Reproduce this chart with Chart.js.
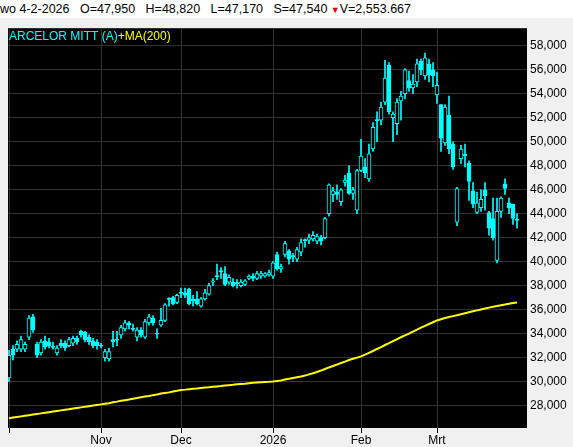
<!DOCTYPE html>
<html><head><meta charset="utf-8">
<script src="https://cdn.jsdelivr.net/npm/chart.js@4/dist/chart.umd.min.js"></script>
<style>
html,body{margin:0;padding:0;background:#f0f0f0;width:573px;height:447px;overflow:hidden;font-family:"Liberation Sans",Arial,sans-serif}
#hdr{position:absolute;left:0;top:0;width:573px;height:18px;background:#fff;font-size:12.5px;line-height:18px;white-space:pre;color:#000}
#hdr .tri{color:#e00000;font-size:9px}
#wrap{position:absolute;left:0;top:18px;width:573px;height:429px}
</style></head><body>
<div id="hdr">wo 4-2-2026   O=47,950   H=48,820   L=47,170   S=47,540 <span class="tri">▼</span>V=2,553.667</div>
<div id="wrap"><canvas id="c" width="573" height="429"></canvas></div>
<script>
const opens  = [30.3,32.7,32.7,32.7,32.7,33.7,35.4,33.1,32.4,33.4,33.3,32.9,32.4,33.2,33.2,33.0,33.2,33.6,34.2,34.1,33.7,33.4,33.3,33.0,32.0,31.9,33.5,33.5,33.9,34.4,34.9,34.4,33.7,34.3,33.7,34.9,35.3,34.0,34.7,35.1,36.9,37.0,36.6,37.4,37.4,37.7,36.8,36.9,36.3,36.9,37.3,38.3,38.8,39.2,39.0,38.3,38.3,38.2,38.0,38.1,38.6,38.8,38.6,38.8,38.8,38.9,38.8,40.6,39.4,40.6,40.9,40.5,40.2,40.8,41.8,41.8,41.9,41.7,42.0,42.0,44.0,45.6,45.8,45.0,46.6,47.4,45.7,44.3,47.6,47.9,46.9,49.4,51.8,51.8,53.3,56.4,52.0,51.5,53.4,54.0,55.1,54.5,55.0,56.7,55.5,56.5,56.0,53.9,53.1,49.9,52.2,49.8,43.3,48.6,48.9,48.2,45.9,44.1,44.5,46.0,44.1,43.6,40.1,44.2,46.5,44.9,44.8,43.5];
const closes = [32.2,32.2,33.1,33.5,33.1,35.3,34.3,32.2,33.3,32.9,33.0,32.9,32.8,33.0,32.8,33.5,33.6,33.3,33.9,33.5,33.3,33.0,33.0,33.0,32.5,32.5,33.3,33.5,34.5,34.9,34.7,34.4,34.3,33.9,35.0,35.4,34.9,34.0,35.1,36.4,36.9,36.5,37.2,37.4,37.2,36.5,36.8,36.5,36.9,37.4,38.0,38.4,38.8,39.2,38.1,38.7,38.0,38.2,38.3,38.4,38.8,38.6,39.0,39.0,39.0,39.1,39.9,39.4,39.6,41.5,40.2,40.4,41.0,41.6,41.8,42.0,42.2,42.1,41.7,43.6,46.4,45.9,45.6,46.0,46.8,45.7,46.0,47.6,48.8,47.4,49.0,51.2,51.8,52.9,55.3,52.5,52.3,53.3,53.8,56.0,54.5,54.8,56.5,56.0,57.0,55.6,55.5,54.7,50.3,52.9,49.4,47.9,46.1,49.4,48.9,46.7,44.8,44.9,45.2,45.5,42.8,42.0,44.2,45.3,46.1,44.5,43.6,43.5];
const highs  = [32.6,33.0,33.4,33.8,33.3,35.5,35.6,33.3,33.5,33.8,33.6,33.3,33.0,33.5,33.4,33.7,33.8,33.8,34.3,34.2,33.9,33.6,33.5,33.2,32.7,32.8,34.2,34.2,34.7,35.1,35.0,34.8,34.5,34.5,35.2,35.6,35.5,34.4,36.1,36.5,37.0,37.1,37.3,37.8,37.8,37.8,37.2,37.5,37.0,37.7,38.2,38.6,39.8,39.5,39.6,38.9,38.6,38.5,38.5,38.5,38.9,39.0,39.2,39.2,39.1,39.3,40.0,40.8,39.8,41.7,41.0,40.7,41.2,41.9,41.9,42.3,42.5,42.3,42.2,43.7,46.5,46.2,46.4,46.1,47.2,48.0,46.2,47.7,50.2,48.6,49.8,51.6,52.5,53.3,56.8,56.6,52.5,53.6,54.2,56.1,55.9,55.6,56.9,56.9,57.4,56.9,56.6,55.8,53.1,53.1,53.8,50.0,46.2,49.7,49.8,48.4,46.6,45.8,46.0,46.6,44.2,45.3,45.3,45.4,46.9,45.3,44.8,44.0];
const lows   = [30.0,31.8,32.5,32.5,32.5,33.5,34.1,32.0,32.2,32.7,32.8,32.7,32.2,32.8,32.6,32.9,33.0,33.1,33.7,33.3,33.1,32.8,32.7,32.8,31.7,31.7,32.9,33.0,33.6,34.2,34.4,34.2,33.4,33.7,33.6,34.7,34.7,33.6,34.6,35.0,36.3,36.4,36.5,37.0,37.0,36.4,36.3,36.4,36.2,36.8,37.2,38.0,38.5,38.6,38.0,38.1,37.9,37.8,37.9,38.0,38.5,38.4,38.5,38.6,38.7,38.8,38.6,39.3,39.1,40.4,39.8,40.0,40.0,40.5,41.2,41.5,41.7,41.5,41.4,41.9,43.8,45.0,45.2,44.7,46.3,45.6,45.2,44.0,47.5,47.0,46.7,49.2,50.0,51.4,53.1,52.3,50.0,50.6,51.8,53.6,54.2,54.0,54.6,55.6,55.2,55.0,54.6,53.2,49.2,49.7,49.0,47.7,43.0,48.2,47.9,45.1,44.5,44.0,44.2,44.3,42.2,41.8,39.9,43.7,45.6,44.0,43.1,42.8];
const ma200  = [26.95,27.0,27.05,27.1,27.15,27.2,27.25,27.3,27.35,27.4,27.45,27.5,27.55,27.6,27.65,27.7,27.75,27.8,27.85,27.9,27.95,28.0,28.05,28.1,
28.15,28.2,28.27,28.33,28.4,28.45,28.5,28.57,28.63,28.7,28.75,28.8,28.87,28.93,29.0,29.05,29.1,29.17,29.23,29.3,
29.33,29.37,29.4,29.43,29.47,29.5,29.53,29.57,29.6,29.63,29.67,29.7,29.73,29.77,29.8,29.83,29.87,29.9,29.93,29.95,29.97,29.98,30.0,
30.05,30.1,30.17,30.23,30.3,30.37,30.43,30.5,30.6,30.7,30.8,30.92,31.05,31.18,31.3,31.42,31.55,31.67,31.8,31.9,32.0,32.1,
32.25,32.4,32.55,32.72,32.88,33.05,33.2,33.37,33.53,33.7,33.85,34.0,34.17,34.33,34.5,34.65,34.8,34.95,35.1,
35.2,35.3,35.38,35.46,35.54,35.62,35.7,35.78,35.86,35.94,36.02,36.1,36.17,36.24,36.3,36.37,36.43,36.5,36.55,36.6];
const monthTickIdx = [1,24,44,67,89,108];
const monthTickLbl = ['','Nov','Dec','2026','Feb','Mrt'];
const yTicks = [28,30,32,34,36,38,40,42,44,46,48,50,52,54,56,58];

const CY='#00ffff';
const wicks = opens.map((o,i)=>({x:i+1,y:[lows[i],highs[i]]}));
const bodies = opens.map((o,i)=>{const c=closes[i];return {x:i+1,y:(o===c)?[o-0.05,o+0.05]:[Math.min(o,c),Math.max(o,c)]};});
const bodyFill = opens.map((o,i)=> closes[i]>o ? '#000000' : CY);
const maPts = ma200.map((v,i)=>({x:i+1,y:v}));

const bg={id:'bg',
 beforeDraw(ch){const a=ch.chartArea,x=ch.ctx;x.save();x.fillStyle='#000';x.fillRect(a.left,a.top,a.right-a.left,a.bottom-a.top);x.restore();},
 afterDraw(ch){const x=ch.ctx,a=ch.chartArea;x.save();x.font='12px "Liberation Sans"';x.textBaseline='top';
  const t1='ARCELOR MITT (A)';x.fillStyle=CY;x.fillText(t1,a.left+1,a.top+2);
  x.fillStyle='#ffff00';x.fillText('+MA(200)',a.left+1+x.measureText(t1).width,a.top+2);x.restore();}};

new Chart(document.getElementById('c'),{
 data:{datasets:[
  {type:'line',data:maPts,borderColor:'#ffff00',borderWidth:2,pointRadius:0,tension:0,order:0},
  {type:'bar',data:bodies,backgroundColor:bodyFill,borderColor:CY,borderWidth:1,borderSkipped:false,barThickness:4,grouped:false,order:1},
  {type:'bar',data:wicks,backgroundColor:CY,borderWidth:0,barThickness:1,grouped:false,order:2}
 ]},
 options:{responsive:false,animation:false,devicePixelRatio:1,
  layout:{padding:{left:8,top:1,right:0,bottom:0}},
  plugins:{legend:{display:false},tooltip:{enabled:false}},
  scales:{
   x:{type:'linear',min:0.75,max:130.5,offset:false,
     afterBuildTicks(s){s.ticks=monthTickIdx.map(v=>({value:v}));},
     afterFit(s){s.height=19;},
     ticks:{autoSkip:false,maxRotation:0,color:'#000',font:{size:12,family:'Liberation Sans'},padding:0,callback(v){const k=monthTickIdx.indexOf(v);return k>=0?monthTickLbl[k]:'';}},
     grid:{offset:false,color:'#333333',tickColor:'#000',tickLength:5,drawTicks:true},border:{display:false}},
   y:{type:'linear',position:'right',min:26.13,max:59.47,
     afterBuildTicks(s){s.ticks=yTicks.map(v=>({value:v}));},
     afterFit(s){s.width=46;},
     ticks:{color:'#000',padding:3,font:{size:12,family:'Liberation Sans'},callback(v){return (v*1000).toLocaleString('en-US');}},
     grid:{color:'#333333',drawTicks:false},border:{display:false}}
  }},
 plugins:[bg]
});
</script></body></html>
